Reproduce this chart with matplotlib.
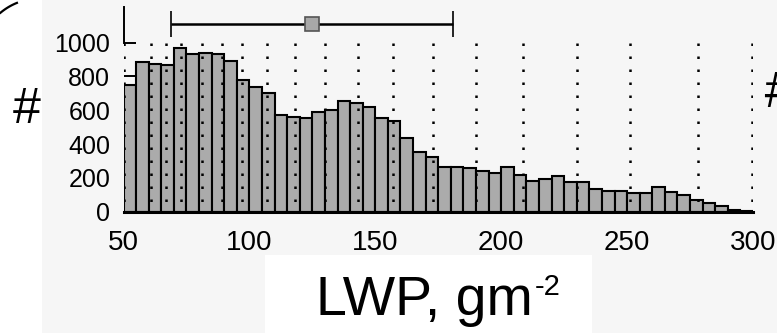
import matplotlib
matplotlib.use("Agg")
import matplotlib.pyplot as plt
from matplotlib.patches import Rectangle
from matplotlib.lines import Line2D
import numpy as np

plt.rcParams["font.family"] = ["Liberation Sans", "DejaVu Sans"]

# Histogram of liquid water path, 5 g/m2 bins from 50 to 300
bin_edges_start = 50
bin_width = 5
counts = [746, 882, 872, 868, 967, 931, 941, 933, 892, 779,
          736, 701, 572, 558, 553, 592, 602, 655, 645, 618,
          556, 537, 438, 351, 326, 263, 263, 257, 243, 231,
          265, 217, 183, 193, 211, 178, 178, 132, 124, 124,
          109, 108, 144, 118, 99, 69, 50, 34, 8, 6]

# reference LWP values marked with dotted lines
ref_lines = [50, 61, 67, 73, 81, 89, 97, 107, 118, 130, 143, 157,
             173, 190, 208.5, 230, 251, 278, 299.5]

# mean and spread shown above the histogram
lwp_mean = 125
lwp_std = 56
summary_level = 1110

x_ticks = [50, 100, 150, 200, 250, 300]
y_ticks = [0, 200, 400, 600, 800, 1000]

W, H = 777, 333
fig = plt.figure(figsize=(W / 100, H / 100), dpi=100, facecolor="white")

# light panel behind the chart and white label box
fig.patches.append(Rectangle((42 / W, 0), 1 - 42 / W, 1, transform=fig.transFigure,
                             facecolor="#f6f6f6", edgecolor="none", zorder=-10))
fig.patches.append(Rectangle((265 / W, 0), (592 - 265) / W, 1 - 255 / H,
                             transform=fig.transFigure, facecolor="white",
                             edgecolor="none", zorder=-9))

# curved stroke in the upper-left corner
t = np.radians(np.linspace(112, 130, 30))
arc_x = (40 + 61.6 * np.cos(t)) / W
arc_y = 1 - (60 - 61.6 * np.sin(t)) / H
fig.add_artist(Line2D(arc_x, arc_y, transform=fig.transFigure, color="black",
                      lw=1.6))

ax = fig.add_axes([123.5 / W, 1 - 211.7 / H, (753 - 123.5) / W, (211.7 - 7) / H])
ax.patch.set_alpha(0)
ax.set_axisbelow(True)

lefts = bin_edges_start + bin_width * np.arange(len(counts))
ax.bar(lefts, counts, width=bin_width, align="edge", color="#ababab",
       edgecolor="black", linewidth=1.5, zorder=2)

ax.vlines(ref_lines, 1000, 0, colors="black", linestyles=(0, (1, 4.2)),
          linewidth=1.8, zorder=3)

ax.errorbar([lwp_mean], [summary_level], xerr=[lwp_std], fmt="s",
            color="black", ecolor="black", elinewidth=1.8, capsize=9.5,
            capthick=1.8, markersize=10, markerfacecolor="#a8a8a8",
            markeredgecolor="#555555", markeredgewidth=1.2, zorder=4)

ax.set_xlim(50, 300)
ax.set_ylim(0, 1210)
ax.set_xticks(x_ticks)
ax.set_yticks(y_ticks)
ax.tick_params(axis="x", length=0, pad=13, labelsize=20)
ax.tick_params(axis="y", direction="in", length=8.5, width=1.4, pad=9.5,
               labelsize=18)
for s in ["top", "right"]:
    ax.spines[s].set_visible(False)
ax.spines["left"].set_bounds(1000, 1210)
ax.spines["left"].set_linewidth(1.4)
ax.spines["bottom"].set_linewidth(2.2)
ax.spines["bottom"].set_zorder(5)

# axis captions
fig.text(27 / W, 1 - 110 / H, "#", fontsize=36, ha="center", va="center")
fig.text(763 / W, 1 - 94 / H, "#", fontsize=36, ha="left", va="center",
         style="italic")
unit = fig.text(316 / W, 1 - 315 / H, "LWP, gm", fontsize=40, ha="left",
                va="baseline")
ax.annotate("-2", xy=(1, 0), xycoords=unit, xytext=(1.5, 23),
            textcoords="offset points", fontsize=21, ha="left",
            va="baseline", annotation_clip=False)

fig.savefig("out.png", dpi=100, facecolor="white")
